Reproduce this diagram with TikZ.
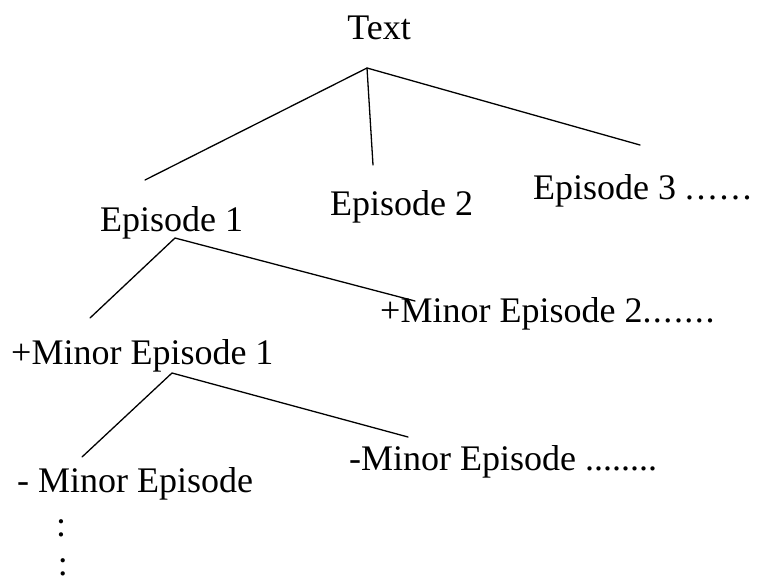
\documentclass[tikz,border=0pt]{standalone}
\usepackage{fontspec}
\setmainfont{Liberation Serif}
\begin{document}
\begin{tikzpicture}[x=1pt,y=-1pt,
  lbl/.style={inner sep=0pt,anchor=base west,font=\fontsize{36}{42}\selectfont},
  branch/.style={line width=1.3pt,line cap=round}]
\useasboundingbox (0,0) rectangle (757,584);
% labels
\node[lbl,anchor=base] (root) at (379,39) {Text};
\node[lbl] (e1) at (100,231) {Episode 1};
\node[lbl] (e2) at (330,215) {Episode 2};
\node[lbl] (e3) at (533,199) {Episode 3 .\hspace{2.5pt}.\hspace{2.5pt}.\hspace{2.5pt}.\hspace{2.5pt}.\hspace{2.5pt}.};
\node[lbl] (m1) at (11,364) {+Minor Episode 1};
\node[lbl] (m2) at (380,322) {+Minor Episode 2.\hspace{1.5pt}.\hspace{1.5pt}.\hspace{1.5pt}.\hspace{1.5pt}.\hspace{1.5pt}.\hspace{1.5pt}.};
\node[lbl] (mm1) at (17,492) {- Minor Episode};
\node[lbl] (mm2) at (349,470) {-Minor Episode ........};
\node[lbl,anchor=base] (c1) at (61,536) {:};
\node[lbl,anchor=base] (c2) at (63,575) {:};
% branch points
\coordinate (a0) at (367,68);
\coordinate (e1t) at (145,180);
\coordinate (e2t) at (373,165);
\coordinate (e3t) at (640,145);
\coordinate (a1) at (175,238);
\coordinate (m1t) at (90,318);
\coordinate (m2t) at (415,301);
\coordinate (a2) at (172,373);
\coordinate (mm1t) at (82,457);
\coordinate (mm2t) at (408,437);
% connectors
\draw[branch] (e1t) -- (a0) -- (e3t);
\draw[branch] (a0) -- (e2t);
\draw[branch] (m1t) -- (a1) -- (m2t);
\draw[branch] (mm1t) -- (a2) -- (mm2t);
\end{tikzpicture}
\end{document}
